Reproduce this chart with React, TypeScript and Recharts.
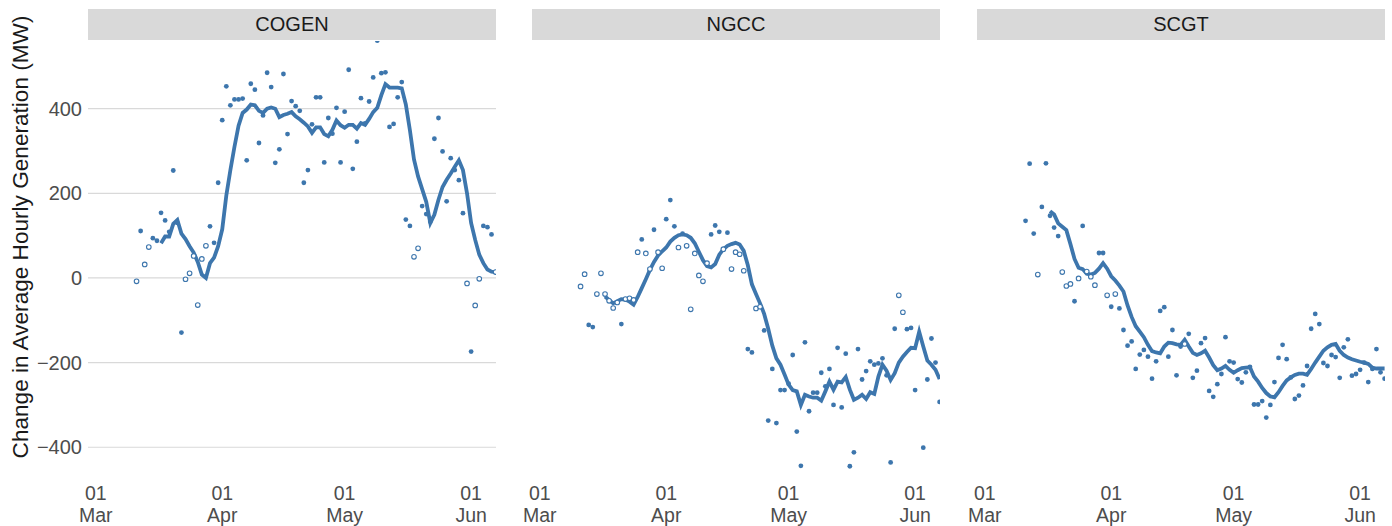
import React from 'react';
import { ComposedChart, Line, Scatter, XAxis, YAxis, CartesianGrid } from 'recharts';

// x = days since 01 Mar (0 = Mar 1)
const firstPointDay = 10;
const firstLineDay = 16;

const tickDays = [0, 31, 61, 92];
const tickDayLabels = ['01', '01', '01', '01'];
const tickMonths = ['Mar', 'Apr', 'May', 'Jun'];
const yTicks = [-400, -200, 0, 200, 400];

const panelNames = ['COGEN', 'NGCC', 'SCGT'];

// daily values, day 10 .. 98
const cogenPoints = [
  -8, 111, 32, 73, 94, 88, 154, 136, 109, 254, 130, -129, -3, 11, 52, -64, 45, 76, 122, 83,
  225, 373, 453, 408, 422, 422, 424, 278, 459, 445, 319, 384, 485, 451, 272, 304, 482, 340, 418, 406,
  395, 225, 255, 363, 427, 427, 273, 378, 341, 402, 273, 393, 492, 258, 322, 425, 365, 417, 474, 561,
  484, 486, 357, 364, 427, 463, 138, 123, 50, 70, 170, 151, 133, 329, 378, 299, 181, 283, 255, 231,
  153, -13, -174, -65, -2, 123, 120, 103, 14,
];
const cogenHollowDays = [10, 12, 13, 22, 23, 24, 25, 26, 27, 78, 79, 91, 93, 94, 98];

const ngccPoints = [
  -20, 9, -111, -116, -38, 11, -38, -54, -71, -58, -109, -50, -48, -52, 61, 91, 58, 21, 114, 61,
  23, 139, 184, 122, 72, 105, 76, -74, 58, 6, -8, 35, 103, 124, 109, 68, 107, 21, 61, 56,
  17, -168, -176, -72, -68, -124, -337, -215, -343, -265, -265, -250, -182, -363, -444, -152, -315, -271, -271, -224,
  -256, -215, -300, -165, -306, -179, -445, -412, -168, -240, -220, -197, -205, -202, -190, -230, -436, -120, -41, -81,
  -121, -118, -265, -140, -401, -240, -143, -200, -293,
];
const ngccHollowDays = [10, 11, 14, 15, 16, 17, 18, 19, 21, 22, 23, 24, 26, 27, 29, 30, 34, 36, 37, 38, 39, 40, 41, 45, 47, 48, 49, 50, 53, 54, 88, 89];

const scgtPoints = [
  135, 270, 105, 8, 168, 271, 147, 119, 99, 14, -19, -14, -55, -1, 123, 15, 3, -17, 59, 59,
  -41, -68, -38, -72, -123, -160, -150, -215, -181, -170, -186, -238, -197, -78, -69, -186, -123, -230, -162, -156,
  -132, -236, -219, -154, -142, -267, -281, -251, -227, -140, -197, -200, -239, -247, -223, -210, -299, -299, -291, -330,
  -300, -246, -189, -158, -192, -235, -286, -278, -254, -208, -120, -85, -109, -201, -208, -182, -187, -236, -164, -145,
  -231, -227, -217, -200, -246, -215, -168, -223, -238,
];
const scgtHollowDays = [13, 19, 20, 21, 23, 25, 26, 27, 30, 32, 49];

// rolling average, day 16 .. 98
const cogenLine = [
  82, 98, 98, 128, 137, 105, 92, 75, 60, 38, 8, 0, 35, 48, 75, 115, 195, 255, 310, 360,
  390, 398, 410, 408, 395, 390, 400, 403, 400, 380, 385, 388, 392, 382, 375, 367, 358, 343, 356, 356,
  340, 335, 350, 372, 361, 355, 362, 362, 353, 366, 362, 376, 392, 402, 432, 458, 450, 450, 450, 448,
  410, 349, 280, 240, 210, 180, 130, 150, 185, 215, 232, 247, 263, 278, 255, 200, 130, 90, 55, 35,
  20, 15, 14,
];
const ngccLine = [
  -44, -52, -60, -55, -50, -51, -56, -63, -45, -24, -3, 19, 38, 53, 63, 72, 86, 95, 101, 103,
  101, 95, 82, 62, 42, 28, 25, 33, 55, 68, 76, 80, 83, 79, 64, 30, -15, -38, -60, -85,
  -120, -160, -190, -205, -228, -252, -265, -268, -300, -276, -280, -283, -283, -290, -268, -245, -264, -245, -247, -234,
  -264, -288, -283, -276, -286, -270, -274, -233, -205, -219, -241, -225, -200, -186, -175, -165, -166, -127, -162, -195,
  -205, -217, -239,
];
const scgtLine = [
  158, 150, 129, 121, 113, 80, 45, 24, 21, 10, 8, 12, 22, 35, 22, 4, -6, -18, -32, -65,
  -92, -114, -127, -140, -158, -173, -176, -178, -162, -153, -154, -157, -158, -146, -162, -177, -182, -178, -172, -188,
  -206, -218, -214, -208, -217, -224, -218, -213, -212, -211, -233, -245, -260, -272, -280, -282, -270, -255, -242, -235,
  -229, -226, -226, -229, -215, -200, -186, -172, -164, -158, -156, -172, -182, -188, -192, -195, -198, -200, -203, -212,
  -214, -214, -214,
];

const BLUE = '#3d76ad';
const TEXT = '#4d4d4d';
const FONT = '"Liberation Sans", Arial, sans-serif';

const toRows = (vals: number[], start: number) => vals.map((v, i) => ({ day: start + i, v }));

const DateTick = (props: any) => {
  const { x, payload } = props;
  const i = tickDays.indexOf(payload.value);
  return (
    <text textAnchor="middle" fill={TEXT} fontSize={19.5} fontFamily={FONT}>
      <tspan x={x} y={500}>{tickDayLabels[i]}</tspan>
      <tspan x={x} y={522}>{tickMonths[i]}</tspan>
    </text>
  );
};

const Dot = (props: any) => <circle cx={props.cx} cy={props.cy} r={2.4} fill={BLUE} />;
const Ring = (props: any) => (
  <circle cx={props.cx} cy={props.cy} r={2.3} fill="#fff" stroke={BLUE} strokeWidth={1.1} />
);

function Panel({ name, points, hollowDays, line, left, showY }: any) {
  const rows = toRows(points, firstPointDay);
  const filled = rows.filter((r) => !hollowDays.includes(r.day));
  const hollow = rows.filter((r) => hollowDays.includes(r.day));
  const lineRows = toRows(line, firstLineDay);
  return (
    <div style={{ position: 'absolute', left, top: 0, width: 500, height: 526 }}>
      <div
        style={{
          position: 'absolute', left: 88, top: 9, width: 408, height: 31, background: '#d9d9d9',
          color: '#1a1a1a', fontSize: 20, lineHeight: '31px', textAlign: 'center', fontFamily: FONT,
        }}
      >
        {name}
      </div>
      <ComposedChart width={500} height={526} margin={{ top: 41, right: 4, bottom: 0, left: 0 }}>
        <CartesianGrid vertical={false} horizontalValues={yTicks} stroke="#d9d9d9" strokeWidth={1.2} />
        <XAxis
          dataKey="day" type="number" domain={[-1.9, 98.1]} ticks={tickDays} interval={0}
          allowDataOverflow axisLine={false} tickLine={false} height={50} tick={<DateTick />}
        />
        <YAxis
          dataKey="v" type="number" domain={[-468, 560]} ticks={yTicks} interval={0}
          allowDataOverflow axisLine={false} tickLine={false} width={88} tickMargin={0}
          tick={showY ? { fill: TEXT, fontSize: 20, fontFamily: FONT } : false}
          tickFormatter={(v: number) => (v < 0 ? '\u2212' + Math.abs(v) : String(v))}
        />
        <Scatter data={filled} dataKey="v" shape={<Dot />} isAnimationActive={false} />
        <Scatter data={hollow} dataKey="v" shape={<Ring />} isAnimationActive={false} />
        <Line
          data={lineRows} dataKey="v" type="linear" stroke={BLUE} strokeWidth={3.8}
          dot={false} activeDot={false} isAnimationActive={false}
        />
      </ComposedChart>
    </div>
  );
}

export default function App() {
  return (
    <div style={{ position: 'absolute', left: 0, top: 0, width: 1392, height: 526, background: '#fff' }}>
      <svg style={{ position: 'absolute', left: 0, top: 0 }} width={44} height={526}>
        <text
          x={20} y={237} transform="rotate(-90 20 237)" textAnchor="middle" dominantBaseline="central"
          fontSize={22.6} fill="#1a1a1a" fontFamily={FONT}
        >
          Change in Average Hourly Generation (MW)
        </text>
      </svg>
      <Panel name={panelNames[0]} points={cogenPoints} hollowDays={cogenHollowDays} line={cogenLine} left={0} showY />
      <Panel name={panelNames[1]} points={ngccPoints} hollowDays={ngccHollowDays} line={ngccLine} left={444} />
      <Panel name={panelNames[2]} points={scgtPoints} hollowDays={scgtHollowDays} line={scgtLine} left={889} />
    </div>
  );
}
